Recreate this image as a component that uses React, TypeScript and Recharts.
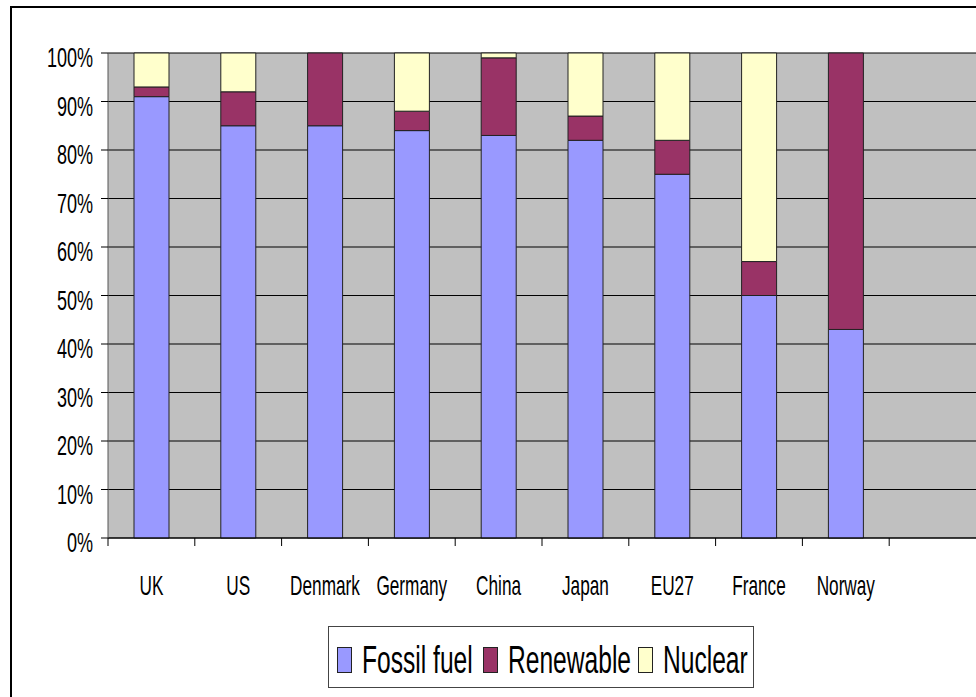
import React from "react";
import { BarChart, Bar, XAxis, YAxis, CartesianGrid } from "recharts";

const countries = ["UK", "US", "Denmark", "Germany", "China", "Japan", "EU27", "France", "Norway", ""];
const fossil = [91, 85, 85, 84, 83, 82, 75, 50, 43, null];
const renewable = [2, 7, 15, 4, 16, 5, 7, 7, 57, null];
const nuclear = [7, 8, 0, 12, 1, 13, 18, 43, 0, null];
const yTicks = [0, 10, 20, 30, 40, 50, 60, 70, 80, 90, 100];

const series = [
  { key: "fossil", name: "Fossil fuel", color: "#9999FF" },
  { key: "renewable", name: "Renewable", color: "#993366" },
  { key: "nuclear", name: "Nuclear", color: "#FFFFCC" },
];

const data = countries.map((country, i) => ({
  country,
  fossil: fossil[i],
  renewable: renewable[i],
  nuclear: nuclear[i],
}));

// Arial-metric font squeezed horizontally to mimic Arial Narrow
const FONT = "'Liberation Sans', Arial, sans-serif";
const W = 976;
const H = 697;
const LEFT = 108;
const TOP = 53;
const BOTTOM = 538;
const BAND = (W - LEFT) / countries.length;

// legend item offsets inside the legend box
const legendX = [9, 155, 310];

function YTick(props: any) {
  const { x, y, payload } = props;
  return (
    <text
      transform={`translate(${x},${y + 14}) scale(0.82,1.27)`}
      textAnchor="end"
      fontFamily={FONT}
      fontSize={22}
      fill="#000"
    >
      {payload.value}%
    </text>
  );
}

function XTick(props: any) {
  const { x, payload } = props;
  return (
    <g>
      <line x1={x - BAND / 2} x2={x - BAND / 2} y1={BOTTOM} y2={BOTTOM + 8} stroke="#000" />
      <text
        transform={`translate(${x},${BOTTOM + 57}) scale(0.82,1.32)`}
        textAnchor="middle"
        fontFamily={FONT}
        fontSize={21}
        fill="#000"
      >
        {payload.value}
      </text>
    </g>
  );
}

export default function App() {
  return (
    <div style={{ position: "absolute", left: 0, top: 0, width: W, height: H, overflow: "hidden", background: "#fff" }}>
      <div
        style={{
          position: "absolute",
          left: 10,
          top: 6,
          width: 1000,
          height: 720,
          border: "2px solid #000",
        }}
      />
      <div style={{ position: "absolute", left: 0, top: 0 }}>
        <BarChart
          width={W}
          height={H}
          data={data}
          margin={{ top: TOP, right: 0, bottom: 0, left: 0 }}
          barSize={35}
        >
          <CartesianGrid vertical={false} stroke="#000" fill="#C0C0C0" />
          <XAxis
            dataKey="country"
            height={H - BOTTOM}
            tickLine={false}
            axisLine={{ stroke: "#000" }}
            tick={<XTick />}
            interval={0}
          />
          <YAxis
            width={LEFT}
            domain={[0, 100]}
            ticks={yTicks}
            interval={0}
            tickSize={7}
            tickMargin={8}
            tickLine={{ stroke: "#000" }}
            axisLine={{ stroke: "#555" }}
            tick={<YTick />}
          />
          {series.map((s) => (
            <Bar
              key={s.key}
              dataKey={s.key}
              name={s.name}
              stackId="a"
              fill={s.color}
              stroke="#222"
              strokeWidth={1}
              isAnimationActive={false}
            />
          ))}
        </BarChart>
      </div>
      <svg
        width={426}
        height={62}
        style={{ position: "absolute", left: 328, top: 626, background: "#fff" }}
      >
        <rect x={0.5} y={0.5} width={425} height={61} fill="#fff" stroke="#444" />
        {series.map((s, i) => (
          <g key={s.key}>
            <rect x={legendX[i] + 0.5} y={21.5} width={14} height={25} fill={s.color} stroke="#222" />
            <text
              transform={`translate(${legendX[i] + 25},47) scale(0.82,1.3)`}
              fontFamily={FONT}
              fontSize={30}
              fill="#000"
            >
              {s.name}
            </text>
          </g>
        ))}
      </svg>
    </div>
  );
}
